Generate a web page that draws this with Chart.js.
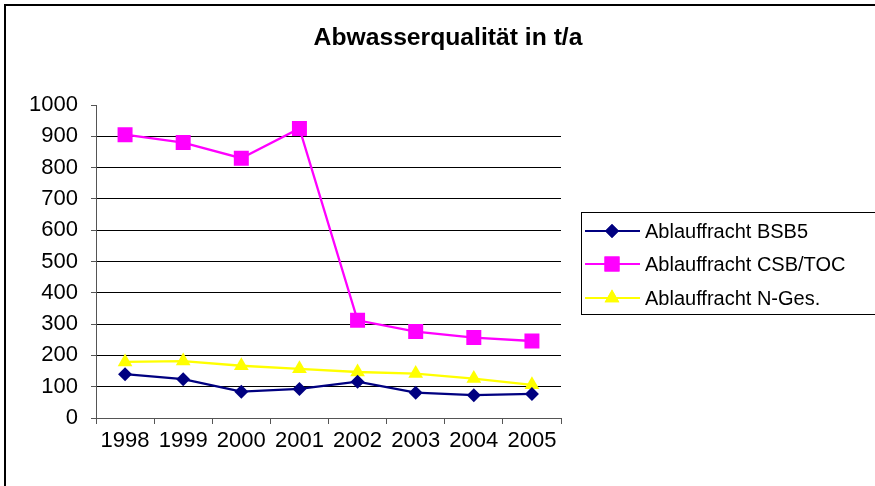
<!DOCTYPE html>
<html>
<head>
<meta charset="utf-8">
<script src="https://cdn.jsdelivr.net/npm/chart.js@4"></script>
<style>
  html, body { margin: 0; padding: 0; background: #fff; }
  #wrap { width: 875px; height: 486px; }
</style>
</head>
<body>
<div id="wrap"><canvas id="my-chart" width="875" height="486"></canvas></div>
<script>
const years = ["1998", "1999", "2000", "2001", "2002", "2003", "2004", "2005"];
const bsb5 = [140, 124, 84, 93, 116, 81, 73, 77];
const csbToc = [905, 880, 830, 925, 312, 276, 257, 246];
const nGes = [179, 182, 167, 157, 147, 142, 126, 106];
const seriesNames = ["Ablauffracht BSB5", "Ablauffracht CSB/TOC", "Ablauffracht N-Ges."];
const titleText = "Abwasserqualität in t/a";

const FONT = "'Liberation Sans', Arial, sans-serif";

// frame, title and excel-like legend (line + marker)
const decor = {
  id: 'decor',
  beforeDraw(chart) {
    const c = chart.ctx;
    c.save();
    c.fillStyle = '#fff';
    c.fillRect(0, 0, chart.width, chart.height);
    c.strokeStyle = '#000';
    c.lineWidth = 2;
    c.strokeRect(5, 5, 900, 500);
    c.restore();
  },
  afterDraw(chart) {
    const c = chart.ctx;
    c.save();
    c.fillStyle = '#000';
    c.font = 'bold 24.7px ' + FONT;
    c.textAlign = 'center';
    c.textBaseline = 'middle';
    c.fillText(titleText, 448, 38);

    // legend box
    c.strokeStyle = '#000';
    c.lineWidth = 1;
    c.strokeRect(581.5, 212.5, 400, 102);
    const rows = [231, 264, 298];
    c.font = '20px ' + FONT;
    c.textAlign = 'left';
    chart.data.datasets.forEach((ds, i) => {
      const y = rows[i];
      c.strokeStyle = ds.borderColor;
      c.lineWidth = 2;
      c.beginPath();
      c.moveTo(585, y);
      c.lineTo(640, y);
      c.stroke();
      c.fillStyle = ds.pointBackgroundColor;
      Chart.helpers.drawPoint(c, { pointStyle: ds.pointStyle, radius: ds.pointRadius, rotation: 0, borderWidth: 0 }, 612, y);
      c.fill();
      c.fillStyle = '#000';
      c.fillText(seriesNames[i], 645, y + 1);
    });
    c.restore();
  }
};

function line(label, data, color, style, radius) {
  return {
    label: label,
    data: data,
    borderColor: color,
    backgroundColor: color,
    pointBackgroundColor: color,
    pointBorderColor: color,
    pointBorderWidth: 0,
    borderWidth: 2.3,
    pointStyle: style,
    pointRadius: radius,
    pointHoverRadius: radius,
    tension: 0,
    fill: false
  };
}

const ctx = document.getElementById('my-chart').getContext('2d');
const myChart = new Chart(ctx, {
  type: 'line',
  data: {
    labels: years,
    datasets: [
      line(seriesNames[0], bsb5, '#000080', 'rectRot', 7),
      line(seriesNames[1], csbToc, '#FF00FF', 'rect', 10.6),
      line(seriesNames[2], nGes, '#FFFF00', 'triangle', 8.5)
    ]
  },
  plugins: [decor],
  options: {
    responsive: false,
    animation: false,
    layout: { padding: { top: 105, right: 314, left: 0, bottom: 0 } },
    plugins: {
      legend: { display: false },
      title: { display: false },
      tooltip: { enabled: false }
    },
    scales: {
      x: {
        offset: true,
        grid: { offset: true, drawOnChartArea: false, drawTicks: true, tickLength: 6, tickColor: '#555' },
        border: { color: '#555', width: 1 },
        ticks: { color: '#000', font: { family: FONT, size: 22 }, padding: 4, maxRotation: 0, autoSkip: false },
        afterFit(scale) { scale.height = 68; }
      },
      y: {
        min: 0,
        max: 1000,
        ticks: {
          stepSize: 100,
          color: '#000',
          font: { family: FONT, size: 22 },
          padding: 13,
          callback: (v) => String(v)
        },
        grid: {
          color: (c) => (c.tick && (c.tick.value === 1000 || c.tick.value === 0)) ? 'rgba(0,0,0,0)' : '#000',
          tickColor: '#555',
          tickLength: 5,
          lineWidth: 1
        },
        border: { color: '#555', width: 1 },
        afterFit(scale) { scale.width = 96; }
      }
    }
  }
});
</script>
</body>
</html>
